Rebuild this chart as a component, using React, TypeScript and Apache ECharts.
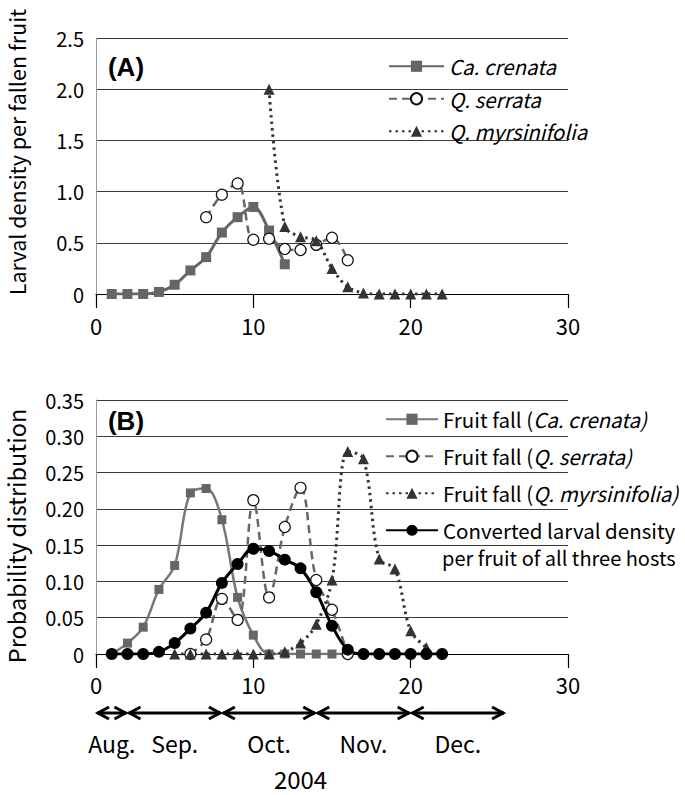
import React, { useEffect, useRef } from "react";
import * as echarts from "echarts";

// Panel A: larval density per fallen fruit
const caWeeksA = [1, 2, 3, 4, 5, 6, 7, 8, 9, 10, 11, 12];
const caDensityA = [0, 0, 0, 0.02, 0.09, 0.23, 0.36, 0.6, 0.75, 0.85, 0.62, 0.29];
const qsWeeksA = [7, 8, 9, 10, 11, 12, 13, 14, 15, 16];
const qsDensityA = [0.75, 0.97, 1.08, 0.53, 0.54, 0.44, 0.43, 0.48, 0.55, 0.33];
const qmWeeksA = [11, 12, 13, 14, 15, 16, 17, 18, 19, 20, 21, 22];
const qmDensityA = [2.0, 0.66, 0.56, 0.52, 0.25, 0.07, 0.01, 0, 0, 0, 0, 0];

// Panel B: probability distribution
const caWeeksB = [1, 2, 3, 4, 5, 6, 7, 8, 9, 10, 11, 12, 13, 14, 15, 16];
const caFallB = [0, 0.015, 0.037, 0.089, 0.122, 0.222, 0.228, 0.185, 0.078, 0.026, 0, 0, 0, 0, 0, 0];
const qsWeeksB = [6, 7, 8, 9, 10, 11, 12, 13, 14, 15, 16];
const qsFallB = [0, 0.02, 0.076, 0.047, 0.212, 0.078, 0.175, 0.229, 0.102, 0.061, 0];
const qmWeeksB = [5, 6, 7, 8, 9, 10, 11, 12, 13, 14, 15, 16, 17, 18, 19, 20, 21];
const qmFallB = [0, 0, 0, 0, 0, 0, 0, 0.003, 0.015, 0.041, 0.102, 0.279, 0.269, 0.131, 0.117, 0.032, 0.009];
const convWeeksB = [1, 2, 3, 4, 5, 6, 7, 8, 9, 10, 11, 12, 13, 14, 15, 16, 17, 18, 19, 20, 21, 22];
const convDensityB = [0, 0, 0, 0.003, 0.015, 0.035, 0.057, 0.098, 0.124, 0.145, 0.142, 0.13, 0.118, 0.085, 0.039, 0.006, 0, 0, 0, 0, 0, 0];

// Axis ticks
const xTicks = { min: 0, max: 30, interval: 10 };
const yTicksA = { min: 0, max: 2.5, interval: 0.5 };
const yTicksB = { min: 0, max: 0.35, interval: 0.05 };

// Month annotation (week boundaries)
const monthBounds = [0, 2, 8, 14, 20, 26];
const monthNames = ["Aug.", "Sep.", "Oct.", "Nov.", "Dec."];
const yearLabel = "2004";
const yearAt = 13;

const legendA = ["Ca. crenata", "Q. serrata", "Q. myrsinifolia"];
const legendB = [
  "Fruit fall (Ca. crenata)",
  "Fruit fall (Q. serrata)",
  "Fruit fall (Q. myrsinifolia)",
  "Converted larval density",
];
const legendBExtra = "per fruit of all three hosts";

const zip = (xs: number[], ys: number[]) => xs.map((x, i) => [x, ys[i]]);

const FONT = "'Noto Sans CJK JP', 'Noto Sans', sans-serif";
const GRAY = "#666666";
const DARK = "#333333";
const GRID = "#3a3a3a";

export default function App() {
  const ref = useRef<HTMLDivElement>(null);

  useEffect(() => {
    document.body.style.margin = "0";
    if (!ref.current) return;
    const chart = echarts.init(ref.current, undefined, { renderer: "svg" });

    const grids = [
      { left: 96, top: 38, width: 472, height: 256 },
      { left: 96, top: 400, width: 472, height: 254 },
    ];

    const xAxisCommon = (gi: number, margin: number) => ({
      type: "value" as const,
      gridIndex: gi,
      ...xTicks,
      axisLine: { show: true, onZero: false, lineStyle: { color: "#000", width: 1.2 } },
      axisTick: { show: true, inside: false, length: 14, lineStyle: { color: "#000", width: 1.2 } },
      axisLabel: { fontSize: 22, color: "#000", margin, fontFamily: FONT },
      splitLine: { show: false },
    });

    const yAxisCommon = (gi: number, ticks: any, digits: number) => ({
      type: "value" as const,
      gridIndex: gi,
      ...ticks,
      axisLine: { show: true, lineStyle: { color: "#999", width: 1 } },
      axisTick: { show: false },
      axisLabel: {
        fontSize: 20,
        color: "#000",
        margin: 12,
        fontFamily: FONT,
        formatter: (v: number) => (v === 0 ? "0" : v.toFixed(digits)),
      },
      splitLine: { show: true, lineStyle: { color: GRID, width: 1 } },
    });

    const LF = 20.5;
    const italic = { fontStyle: "italic", fontSize: LF, fontFamily: FONT, color: "#000" };
    const normal = { fontSize: LF, fontFamily: FONT, color: "#000" };

    const option: any = {
      animation: false,
      textStyle: { fontFamily: FONT },
      grid: grids,
      xAxis: [xAxisCommon(0, 20), xAxisCommon(1, 19)],
      yAxis: [yAxisCommon(0, yTicksA, 1), yAxisCommon(1, yTicksB, 2)],
      legend: [
        {
          data: legendA,
          orient: "vertical",
          left: 388,
          top: 56,
          padding: 0,
          itemWidth: 55,
          itemHeight: 14,
          itemGap: 12,
          textStyle: { ...italic, lineHeight: 20 },
        },
        {
          data: legendB,
          orient: "vertical",
          left: 385,
          top: 409,
          padding: 0,
          itemWidth: 52,
          itemHeight: 14,
          itemGap: 16.5,
          formatter: (name: string) => {
            const m = name.match(/^Fruit fall \((.*)\)$/);
            if (m) return `{n|Fruit fall (}{i|${m[1]})}`;
            return `{n|${name}}`;
          },
          textStyle: {
            ...normal,
            lineHeight: 20,
            rich: { n: { ...normal, lineHeight: 20 }, i: { ...italic, lineHeight: 20 } },
          },
        },
      ],
      series: [
        {
          name: "Ca. crenata",
          type: "line",
          xAxisIndex: 0,
          yAxisIndex: 0,
          data: zip(caWeeksA, caDensityA),
          smooth: 0.35,
          symbol: "rect",
          symbolSize: 10,
          lineStyle: { color: GRAY, width: 3 },
          itemStyle: { color: GRAY, borderWidth: 0 },
        },
        {
          name: "Q. serrata",
          type: "line",
          xAxisIndex: 0,
          yAxisIndex: 0,
          data: zip(qsWeeksA, qsDensityA),
          smooth: 0.35,
          symbol: "circle",
          symbolSize: 11,
          lineStyle: { color: GRAY, width: 2.5, type: [8, 5] },
          itemStyle: { color: "#fff", borderColor: "#111", borderWidth: 1.2 },
        },
        {
          name: "Q. myrsinifolia",
          type: "line",
          xAxisIndex: 0,
          yAxisIndex: 0,
          data: zip(qmWeeksA, qmDensityA),
          smooth: 0.35,
          symbol: "triangle",
          symbolSize: 11,
          lineStyle: { color: DARK, width: 3, type: [2.5, 4] },
          itemStyle: { color: DARK, borderWidth: 0 },
        },
        {
          name: "Fruit fall (Ca. crenata)",
          type: "line",
          xAxisIndex: 1,
          yAxisIndex: 1,
          data: zip(caWeeksB, caFallB),
          smooth: 0.35,
          symbol: "rect",
          symbolSize: 9,
          lineStyle: { color: "#777", width: 2.5 },
          itemStyle: { color: "#666", borderWidth: 0 },
        },
        {
          name: "Fruit fall (Q. serrata)",
          type: "line",
          xAxisIndex: 1,
          yAxisIndex: 1,
          data: zip(qsWeeksB, qsFallB),
          smooth: 0.35,
          symbol: "circle",
          symbolSize: 11,
          lineStyle: { color: GRAY, width: 2.5, type: [8, 5] },
          itemStyle: { color: "#fff", borderColor: "#111", borderWidth: 1.2 },
        },
        {
          name: "Fruit fall (Q. myrsinifolia)",
          type: "line",
          xAxisIndex: 1,
          yAxisIndex: 1,
          data: zip(qmWeeksB, qmFallB),
          smooth: 0.35,
          symbol: "triangle",
          symbolSize: 11,
          lineStyle: { color: DARK, width: 3, type: [2.5, 4] },
          itemStyle: { color: DARK, borderWidth: 0 },
        },
        {
          name: "Converted larval density",
          type: "line",
          xAxisIndex: 1,
          yAxisIndex: 1,
          data: zip(convWeeksB, convDensityB),
          smooth: 0.35,
          symbol: "circle",
          symbolSize: 12,
          lineStyle: { color: "#000", width: 3 },
          itemStyle: { color: "#000", borderWidth: 0 },
        },
      ],
    };

    chart.setOption(option);

    // Annotations positioned via the x axis of panel B
    const px = (v: number) => chart.convertToPixel({ xAxisIndex: 1 }, v) as number;
    const arrowY = 713;
    const head = 12;
    const hh = 6;
    const arrowStyle = { stroke: "#000", lineWidth: 3, fill: "none", lineJoin: "miter" };
    const graphics: any[] = [];
    for (let i = 0; i < monthNames.length; i++) {
      const a = px(monthBounds[i]) + 1;
      const b = px(monthBounds[i + 1]) - 1;
      graphics.push({ type: "line", shape: { x1: a, y1: arrowY, x2: b, y2: arrowY }, style: arrowStyle });
      graphics.push({
        type: "polyline",
        shape: { points: [[a + head, arrowY - hh], [a + 1, arrowY], [a + head, arrowY + hh]] },
        style: arrowStyle,
      });
      graphics.push({
        type: "polyline",
        shape: { points: [[b - head, arrowY - hh], [b - 1, arrowY], [b - head, arrowY + hh]] },
        style: arrowStyle,
      });
      graphics.push({
        type: "text",
        x: (a + b) / 2,
        y: 743,
        style: { text: monthNames[i], font: `23px ${FONT}`, fill: "#000", align: "center", verticalAlign: "middle" },
      });
    }
    graphics.push({
      type: "text",
      x: px(yearAt),
      y: 778,
      style: { text: yearLabel, font: `24px ${FONT}`, fill: "#000", align: "center", verticalAlign: "middle" },
    });
    graphics.push({
      type: "text",
      x: 126,
      y: 67,
      style: { text: "(A)", font: `bold 26px 'Liberation Sans', Arial, sans-serif`, fill: "#000", align: "center", verticalAlign: "middle" },
    });
    graphics.push({
      type: "text",
      x: 126,
      y: 421,
      style: { text: "(B)", font: `bold 26px 'Liberation Sans', Arial, sans-serif`, fill: "#000", align: "center", verticalAlign: "middle" },
    });
    graphics.push({
      type: "text",
      x: 16,
      y: 152,
      rotation: Math.PI / 2,
      style: { text: "Larval density per fallen fruit", font: `21.5px ${FONT}`, fill: "#000", align: "center", verticalAlign: "middle" },
    });
    graphics.push({
      type: "text",
      x: 16,
      y: 536,
      rotation: Math.PI / 2,
      style: { text: "Probability distribution", font: `23.5px ${FONT}`, fill: "#000", align: "center", verticalAlign: "middle" },
    });
    graphics.push({
      type: "text",
      x: 442,
      y: 557,
      style: { text: legendBExtra, font: `20px ${FONT}`, fill: "#000", align: "left", verticalAlign: "middle" },
    });

    chart.setOption({ graphic: graphics });

    return () => chart.dispose();
  }, []);

  return <div ref={ref} style={{ width: 685, height: 795 }} />;
}
